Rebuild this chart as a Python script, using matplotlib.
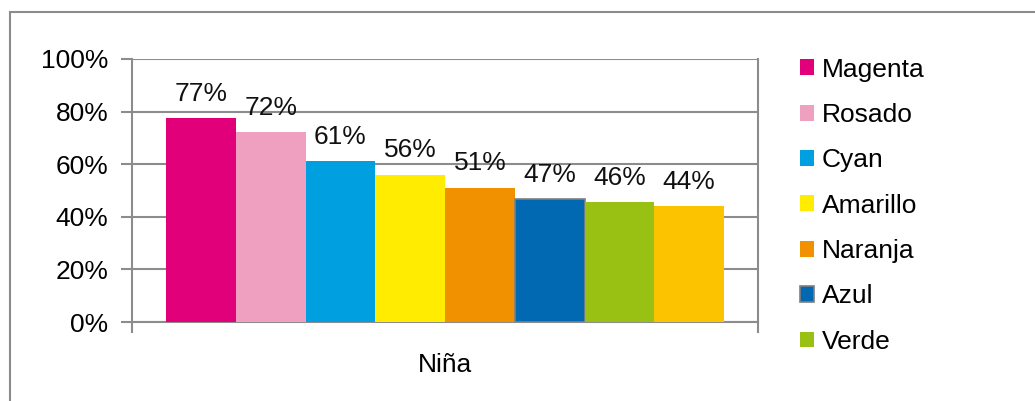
import matplotlib.pyplot as plt
from matplotlib.patches import Rectangle
from matplotlib.ticker import PercentFormatter

plt.rcParams['font.family'] = ['Liberation Sans', 'DejaVu Sans']

# data
colores = ["Magenta", "Rosado", "Cyan", "Amarillo", "Naranja", "Azul", "Verde", "Dorado"]
valores = [0.775, 0.722, 0.612, 0.559, 0.510, 0.467, 0.456, 0.441]
etiquetas = ["77%", "72%", "61%", "56%", "51%", "47%", "46%", "44%"]
hex_colores = ["#E2007A", "#EF9FC0", "#009FDF", "#FFEC00", "#F29100", "#0069B2", "#98C113", "#FCC300"]
categoria = "Niña"


def main():
    fig = plt.figure(figsize=(10.35, 4.01), dpi=100)
    # outer chart border (right and bottom edges fall outside the picture)
    fig.patches.append(Rectangle((10 / 1035, -0.1), 1.2, 1.1 - 12.5 / 401,
                                 transform=fig.transFigure, fill=False,
                                 edgecolor="#8c8c8c", linewidth=1.5))

    ax = fig.add_axes([132 / 1035, 79 / 401, 626 / 1035, 263 / 401])

    n = len(valores)
    w = 558 / 626 / n
    x0 = -n * w / 2
    handles = []
    for i, (v, c, lab) in enumerate(zip(valores, hex_colores, etiquetas)):
        xc = x0 + w * (i + 0.5)
        ec = "#7f7f7f" if colores[i] == "Azul" else c
        b = ax.bar(xc, v, width=w, color=c, edgecolor=ec,
                   linewidth=1.2 if colores[i] == "Azul" else 0, zorder=3)
        handles.append(b)
        ax.annotate(lab, (xc, v), xytext=(0, 9), textcoords="offset points",
                    ha="center", va="bottom", fontsize=19, color="#111111")

    ax.set_xlim(-0.5, 0.5)
    ax.set_ylim(0, 1)
    ax.set_yticks([0, 0.2, 0.4, 0.6, 0.8, 1.0])
    ax.yaxis.set_major_formatter(PercentFormatter(1.0, decimals=0))
    ax.grid(axis="y", color="#8c8c8c", linewidth=1.5, zorder=0)
    ax.set_axisbelow(True)

    ax.set_xticks([-0.5, 0.5])
    ax.set_xticklabels(["", ""])
    ax.set_xticks([0], minor=True)
    ax.set_xticklabels([categoria], minor=True)
    ax.tick_params(axis="x", which="major", length=8, width=1.5, color="#8c8c8c")
    ax.tick_params(axis="x", which="minor", length=0, pad=22, labelsize=19)
    ax.tick_params(axis="y", length=8, width=1.5, color="#8c8c8c", labelsize=19, pad=9)

    ax.spines["top"].set_visible(False)
    for s in ["left", "right", "bottom"]:
        ax.spines[s].set_color("#8c8c8c")
        ax.spines[s].set_linewidth(1.5)

    # only the first seven entries fit in the legend box
    fig.legend(handles[:7], colores[:7], loc="upper left",
               bbox_to_anchor=(789 / 1035, 1 - 47 / 401),
               frameon=False, fontsize=19, handlelength=0.55,
               handleheight=0.55, handletextpad=0.3, labelspacing=0.81,
               borderaxespad=0)

    fig.savefig("out.png", dpi=100)


if __name__ == "__main__":
    main()
